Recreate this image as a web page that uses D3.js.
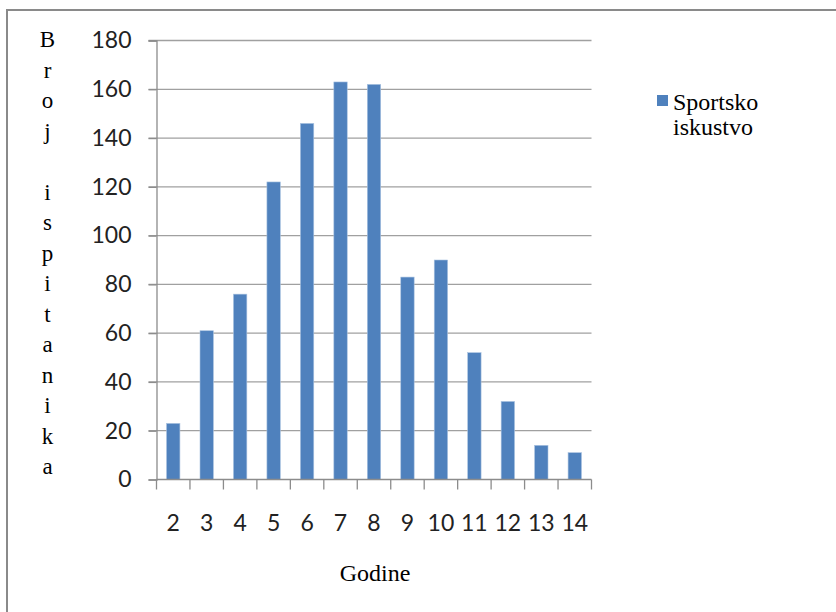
<!DOCTYPE html>
<html>
<head>
<meta charset="utf-8">
<script src="https://cdn.jsdelivr.net/npm/d3@7"></script>
<style>
  body { margin: 0; background: #fff; }
  svg { display: block; }
</style>
</head>
<body>
<svg width="836" height="612"></svg>
<script>
// Data
let categories = ["2", "3", "4", "5", "6", "7", "8", "9", "10", "11", "12", "13", "14"];
let values = [23, 61, 76, 122, 146, 163, 162, 83, 90, 52, 32, 14, 11];
let yTicks = [0, 20, 40, 60, 80, 100, 120, 140, 160, 180];
let yLabel = "Broj ispitanika";
let xLabel = "Godine";
let seriesName = ["Sportsko", "iskustvo"];

// The svg
let svg = d3.select("svg"),
    width = +svg.attr("width"),
    height = +svg.attr("height");

let plot = {left: 156.5, right: 591.5, top: 40.5, bottom: 479.5};

// Outer frame (only top and left edges visible)
svg.append("path")
    .attr("d", "M7,612 L7,10 L836,10")
    .attr("fill", "none")
    .attr("stroke", "#8a8a8a")
    .attr("stroke-width", 2);

// Scales
let x = d3.scaleBand()
    .domain(categories)
    .range([plot.left, plot.right])
    .paddingInner(0.6)
    .paddingOuter(0.3);
let y = d3.scaleLinear()
    .domain([0, 180])
    .range([plot.bottom, plot.top]);

// Gridlines
svg.append("g")
    .selectAll("line")
    .data(yTicks.filter(d => d > 0))
    .join("line")
    .attr("x1", plot.left - 8)
    .attr("x2", plot.right)
    .attr("y1", d => y(d))
    .attr("y2", d => y(d))
    .attr("stroke", "#a0a0a0")
    .attr("stroke-width", 1.3);

// Y axis
let yAxis = svg.append("g")
    .attr("transform", `translate(${plot.left},0)`)
    .call(d3.axisLeft(y).tickValues(yTicks).tickSize(8).tickPadding(17));
yAxis.select(".domain").attr("stroke", "#8c8c8c").attr("stroke-width", 1.3);
yAxis.selectAll(".tick line").attr("stroke", "#8c8c8c").attr("stroke-width", 1.3);
yAxis.selectAll("text")
    .attr("font-family", "Lato, sans-serif")
    .attr("font-size", 23)
    .attr("fill", "#222");

// Bars
svg.append("g")
    .selectAll("rect")
    .data(values)
    .join("rect")
    .attr("x", (d, i) => x(categories[i]))
    .attr("width", x.bandwidth())
    .attr("y", d => y(d))
    .attr("height", d => y(0) - y(d))
    .attr("fill", "#4f81bd")
    .attr("stroke", "#a9c2e0")
    .attr("stroke-width", 0.6);

// X axis with ticks between categories
let xAxisG = svg.append("g");
xAxisG.append("line")
    .attr("x1", plot.left).attr("x2", plot.right)
    .attr("y1", plot.bottom).attr("y2", plot.bottom)
    .attr("stroke", "#8c8c8c").attr("stroke-width", 1.3);
let step = x.step();
xAxisG.selectAll("line.tk")
    .data(d3.range(categories.length + 1))
    .join("line")
    .attr("class", "tk")
    .attr("x1", i => plot.left + i * step)
    .attr("x2", i => plot.left + i * step)
    .attr("y1", plot.bottom)
    .attr("y2", plot.bottom + 10)
    .attr("stroke", "#8c8c8c")
    .attr("stroke-width", 1.3);
xAxisG.selectAll("text")
    .data(categories)
    .join("text")
    .attr("x", d => x(d) + x.bandwidth() / 2)
    .attr("y", 531)
    .attr("text-anchor", "middle")
    .attr("font-family", "Lato, sans-serif")
    .attr("font-size", 23)
    .attr("fill", "#222")
    .text(d => d);

// Y axis title, stacked letters
svg.append("g")
    .selectAll("text")
    .data(yLabel.split(""))
    .join("text")
    .attr("x", 47.5)
    .attr("y", (d, i) => 47 + i * 30.5)
    .attr("text-anchor", "middle")
    .attr("font-family", "'Liberation Serif', serif")
    .attr("font-size", 23)
    .attr("fill", "#000")
    .text(d => d);

// X axis title
svg.append("text")
    .attr("x", 375)
    .attr("y", 581)
    .attr("text-anchor", "middle")
    .attr("font-family", "'Liberation Serif', serif")
    .attr("font-size", 24)
    .attr("fill", "#000")
    .text(xLabel);

// Legend
let legend = svg.append("g");
legend.append("rect")
    .attr("x", 657)
    .attr("y", 95)
    .attr("width", 11)
    .attr("height", 11)
    .attr("fill", "#4f81bd");
legend.selectAll("text")
    .data(seriesName)
    .join("text")
    .attr("x", 673)
    .attr("y", (d, i) => 110 + i * 25)
    .attr("font-family", "'Liberation Serif', serif")
    .attr("font-size", 24)
    .attr("fill", "#000")
    .text(d => d);
</script>
</body>
</html>
